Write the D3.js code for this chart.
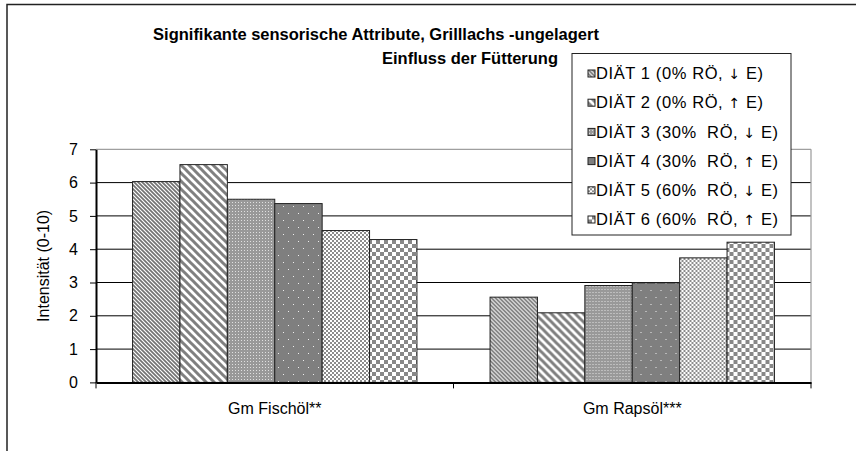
<!DOCTYPE html>
<html>
<head>
<meta charset="utf-8">
<script src="https://cdn.jsdelivr.net/npm/d3@7"></script>
<style>
  body { margin: 0; background: #fff; }
  svg { display: block; font-family: "Liberation Sans", Arial, sans-serif; }
</style>
</head>
<body>
<div id="chart"></div>
<script>
// data
var categories = ["Gm Fischöl**", "Gm Rapsöl***"];
var series = ["DIÄT 1 (0% RÖ, \u2193 E)", "DIÄT 2 (0% RÖ, \u2191 E)", "DIÄT 3 (30%  RÖ, \u2193 E)",
              "DIÄT 4 (30%  RÖ, \u2191 E)", "DIÄT 5 (60%  RÖ, \u2193 E)", "DIÄT 6 (60%  RÖ, \u2191 E)"];
var fischoel = [6.03, 6.54, 5.50, 5.37, 4.56, 4.29];
var rapsoel = [2.56, 2.09, 2.91, 2.99, 3.74, 4.21];
var yTicks = [0, 1, 2, 3, 4, 5, 6, 7];

var values = [fischoel, rapsoel];

var W = 856, H = 451;
var plot = {left: 96, right: 811, top: 149.3, bottom: 382.4};
var font = "Liberation Sans, Arial, sans-serif";

var svg = d3.select("#chart").append("svg")
  .attr("width", W).attr("height", H);

// fill patterns, one per diet
var defs = svg.append("defs");
function pat(id, w, h) {
  return defs.append("pattern").attr("id", id)
    .attr("patternUnits", "userSpaceOnUse")
    .attr("width", w).attr("height", h);
}
// 1: fine back-diagonal stripes
var p1 = pat("p0", 4, 4);
p1.append("rect").attr("width", 4).attr("height", 4).attr("fill", "#fff");
p1.append("path").attr("d", "M-1,-1L5,5M-1,3L1,5M3,-1L5,1")
  .attr("stroke", "#737373").attr("stroke-width", 1.7);
// 2: wide back-diagonal stripes
var p2 = pat("p1", 8, 8);
p2.append("rect").attr("width", 8).attr("height", 8).attr("fill", "#fff");
p2.append("path").attr("d", "M-2,-2L10,10M-2,6L2,10M6,-2L10,2")
  .attr("stroke", "#808080").attr("stroke-width", 3);
// 3: gray with fine light grid dots
var p3 = pat("p2", 3, 3);
p3.append("rect").attr("width", 3).attr("height", 3).attr("fill", "#999");
p3.append("rect").attr("x", 1).attr("y", 1).attr("width", 1).attr("height", 1).attr("fill", "#e0e0e0");
// 4: dark gray with sparse white dots
var p4 = pat("p3", 10, 14);
p4.append("rect").attr("width", 10).attr("height", 14).attr("fill", "#7f7f7f");
p4.append("rect").attr("x", 2).attr("y", 3).attr("width", 1).attr("height", 1).attr("fill", "#eee");
p4.append("rect").attr("x", 7).attr("y", 10).attr("width", 1).attr("height", 1).attr("fill", "#eee");
// 5: small checkerboard
var p5 = pat("p4", 4, 4);
p5.append("rect").attr("width", 4).attr("height", 4).attr("fill", "#fff");
p5.append("path").attr("d", "M0,0h2v2h-2zM2,2h2v2h-2z").attr("fill", "#8c8c8c");
// 6: large checkerboard
var p6 = pat("p5", 8, 8);
p6.append("rect").attr("width", 8).attr("height", 8).attr("fill", "#fff");
p6.append("path").attr("d", "M0,0h4v4h-4zM4,4h4v4h-4z").attr("fill", "#888");

// outer chart border (left and top visible)
svg.append("path")
  .attr("d", "M7," + H + "V4.5H" + W)
  .attr("fill", "none").attr("stroke", "#222").attr("stroke-width", 1.5);

// scales
var x0 = d3.scaleBand().domain(categories).range([plot.left, plot.right]);
var gap = x0.bandwidth() * 0.2045;
var x1 = d3.scaleBand().domain(d3.range(series.length))
  .range([gap / 2, x0.bandwidth() - gap / 2]);
var y = d3.scaleLinear().domain([0, 7]).range([plot.bottom, plot.top]);

// gridlines
svg.append("g").selectAll("line")
  .data(yTicks.filter(function(d) { return d > 0; }))
  .enter().append("line")
    .attr("x1", plot.left).attr("x2", plot.right)
    .attr("y1", function(d) { return y(d); })
    .attr("y2", function(d) { return y(d); })
    .attr("stroke", function(d) { return d == 7 ? "#888" : "#000"; })
    .attr("stroke-width", 1);

// right plot border
svg.append("line")
  .attr("x1", plot.right).attr("x2", plot.right)
  .attr("y1", plot.top).attr("y2", plot.bottom)
  .attr("stroke", "#999").attr("stroke-width", 1.2);

// bars
var groups = svg.append("g").selectAll("g")
  .data(categories)
  .enter().append("g")
    .attr("transform", function(d) { return "translate(" + x0(d) + ",0)"; });
groups.selectAll("rect")
  .data(function(d, i) { return values[i]; })
  .enter().append("rect")
    .attr("x", function(d, i) { return x1(i); })
    .attr("y", function(d) { return y(d); })
    .attr("width", x1.bandwidth())
    .attr("height", function(d) { return y(0) - y(d); })
    .attr("fill", function(d, i) { return "url(#p" + i + ")"; })
    .attr("stroke", "#222").attr("stroke-width", 1);

// y axis
var yAxis = svg.append("g")
  .attr("transform", "translate(" + plot.left + ",0)")
  .call(d3.axisLeft(y).tickValues(yTicks).tickFormat(d3.format("d"))
    .tickSize(6).tickSizeOuter(0).tickPadding(12));
yAxis.select(".domain").attr("stroke", "#000").attr("stroke-width", 2);
yAxis.selectAll(".tick line").attr("stroke", "#000");
yAxis.selectAll("text").attr("font-size", "16px").attr("fill", "#000")
  .style("font-family", font);

// x axis
var xAxis = svg.append("g")
  .attr("transform", "translate(0," + plot.bottom + ")")
  .call(d3.axisBottom(x0).tickSize(0).tickPadding(20));
xAxis.select(".domain").attr("stroke", "#000").attr("stroke-width", 2);
xAxis.selectAll("text").attr("font-size", "16px").attr("fill", "#000")
  .style("font-family", font);
// category separators
svg.append("g").selectAll("line")
  .data([plot.left, (plot.left + plot.right) / 2, plot.right])
  .enter().append("line")
    .attr("x1", function(d) { return d; }).attr("x2", function(d) { return d; })
    .attr("y1", plot.bottom).attr("y2", plot.bottom + 6)
    .attr("stroke", "#000").attr("stroke-width", 1);

// y axis label
svg.append("text")
  .attr("transform", "translate(43," + ((plot.top + plot.bottom) / 2) + ") rotate(-90)")
  .attr("text-anchor", "middle")
  .attr("dy", "0.35em")
  .attr("font-size", "16px")
  .text("Intensität (0-10)");

// title
svg.append("text")
  .attr("x", 376).attr("y", 40)
  .attr("text-anchor", "middle")
  .attr("font-size", "16.5px").attr("font-weight", "bold")
  .text("Signifikante sensorische Attribute,  Grilllachs -ungelagert");
svg.append("text")
  .attr("x", 470).attr("y", 64)
  .attr("text-anchor", "middle")
  .attr("font-size", "16.5px").attr("font-weight", "bold")
  .text("Einfluss der Fütterung");

// legend
var legend = svg.append("g");
legend.append("rect")
  .attr("x", 572).attr("y", 53.5).attr("width", 219).attr("height", 181.5)
  .attr("fill", "#fff").attr("stroke", "#222").attr("stroke-width", 1);
var items = legend.selectAll("g.item")
  .data(series)
  .enter().append("g")
    .attr("class", "item")
    .attr("transform", function(d, i) { return "translate(588," + (73.5 + i * 29.2) + ")"; });
items.append("rect")
  .attr("x", 0).attr("y", -3.5).attr("width", 7).attr("height", 7)
  .attr("fill", function(d, i) { return "url(#p" + i + ")"; })
  .attr("stroke", "#222").attr("stroke-width", 1);
var labels = items.append("text")
  .attr("x", 8).attr("dy", "0.35em")
  .attr("font-size", "16.5px")
  .attr("fill", "#000")
  .attr("letter-spacing", "0.6px")
  .attr("xml:space", "preserve")
  .style("white-space", "pre");
// arrows drawn with DejaVu Sans so they stay plain black glyphs
labels.each(function(d) {
  var t = d3.select(this);
  var m = d.match(/^(.*?)([\u2191\u2193])(.*)$/);
  t.append("tspan").text(m[1]);
  t.append("tspan").style("font-family", "DejaVu Sans").attr("font-size", "14px").text(m[2]);
  t.append("tspan").text(m[3]);
});
</script>
</body>
</html>
